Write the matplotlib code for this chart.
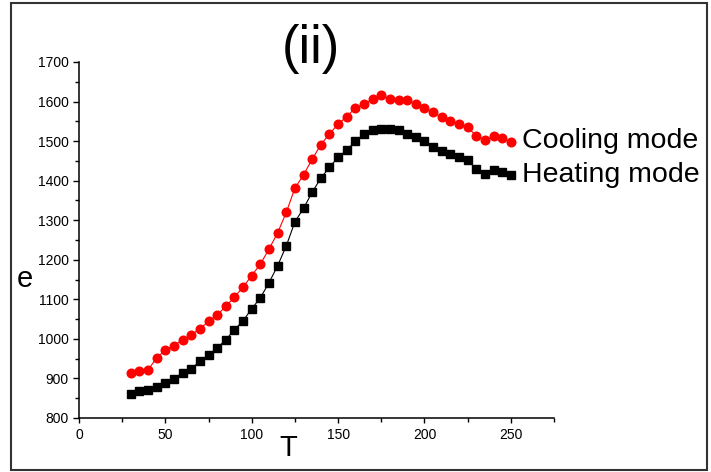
import numpy as np
import matplotlib.pyplot as plt
from matplotlib.ticker import MultipleLocator
from matplotlib.patches import Rectangle

plt.rcParams['font.family'] = ['Liberation Sans', 'DejaVu Sans']

# temperature points
T = np.arange(30, 251, 5)

# cooling mode (red circles)
e_cooling = [914, 919, 922, 952, 972, 983, 998, 1010, 1026, 1044,
             1061, 1082, 1106, 1131, 1160, 1189, 1227, 1268, 1320, 1381,
             1415, 1454, 1491, 1518, 1543, 1562, 1584, 1593, 1606, 1616,
             1606, 1603, 1603, 1594, 1584, 1573, 1560, 1551, 1544, 1535,
             1513, 1502, 1512, 1508, 1498]

# heating mode (black squares)
e_heating = [861, 867, 870, 879, 889, 899, 915, 925, 943, 960,
             977, 998, 1023, 1046, 1076, 1104, 1142, 1185, 1235, 1296,
             1330, 1371, 1406, 1434, 1459, 1477, 1500, 1518, 1527, 1530,
             1530, 1527, 1518, 1510, 1500, 1486, 1476, 1467, 1460, 1452,
             1429, 1418, 1426, 1423, 1414]

fig = plt.figure(figsize=(7.11, 4.72), dpi=100)
ax = fig.add_axes([79 / 711, 1 - 418 / 472, 475 / 711, 356 / 472])

ax.plot(T, e_cooling, color='red', lw=0.8, marker='o', ms=6.2, mec='red', mfc='red')
ax.plot(T, e_heating, color='black', lw=0.8, marker='s', ms=5.3, mec='black', mfc='black')

ax.set_xlim(0, 275)
ax.set_ylim(800, 1700)
ax.xaxis.set_major_locator(MultipleLocator(50))
ax.xaxis.set_minor_locator(MultipleLocator(25))
ax.yaxis.set_major_locator(MultipleLocator(100))
ax.yaxis.set_minor_locator(MultipleLocator(50))

for s in ['top', 'right']:
    ax.spines[s].set_visible(False)
for s in ['left', 'bottom']:
    ax.spines[s].set_linewidth(1.1)

ax.tick_params(axis='both', which='both', direction='out', labelsize=10, width=1)
ax.tick_params(axis='y', which='major', length=4.5, pad=3)
ax.tick_params(axis='y', which='minor', length=3)
ax.tick_params(axis='x', which='major', length=3.5, pad=4)
ax.tick_params(axis='x', which='minor', length=3)

ax.set_xlabel('T', fontsize=21, va='top')
ax.xaxis.set_label_coords(0.44, -0.045)
ax.set_ylabel('e', fontsize=21, rotation=0, va='center', ha='center')
ax.yaxis.set_label_coords(-0.114, 0.39)

ax.text(256.4, 1482, 'Cooling mode', fontsize=20.5, va='baseline', ha='left', clip_on=False)
ax.text(256.4, 1397, 'Heating mode', fontsize=20.5, va='baseline', ha='left', clip_on=False)

fig.text(311 / 711, 1 - 63 / 472, '(ii)', fontsize=38, ha='center', va='baseline')

fig.patches.append(Rectangle((11 / 711, 2 / 472), 696 / 711, 467 / 472,
                             transform=fig.transFigure, fill=False,
                             edgecolor='#333333', lw=1.5))

fig.savefig('out.png', dpi=100)
